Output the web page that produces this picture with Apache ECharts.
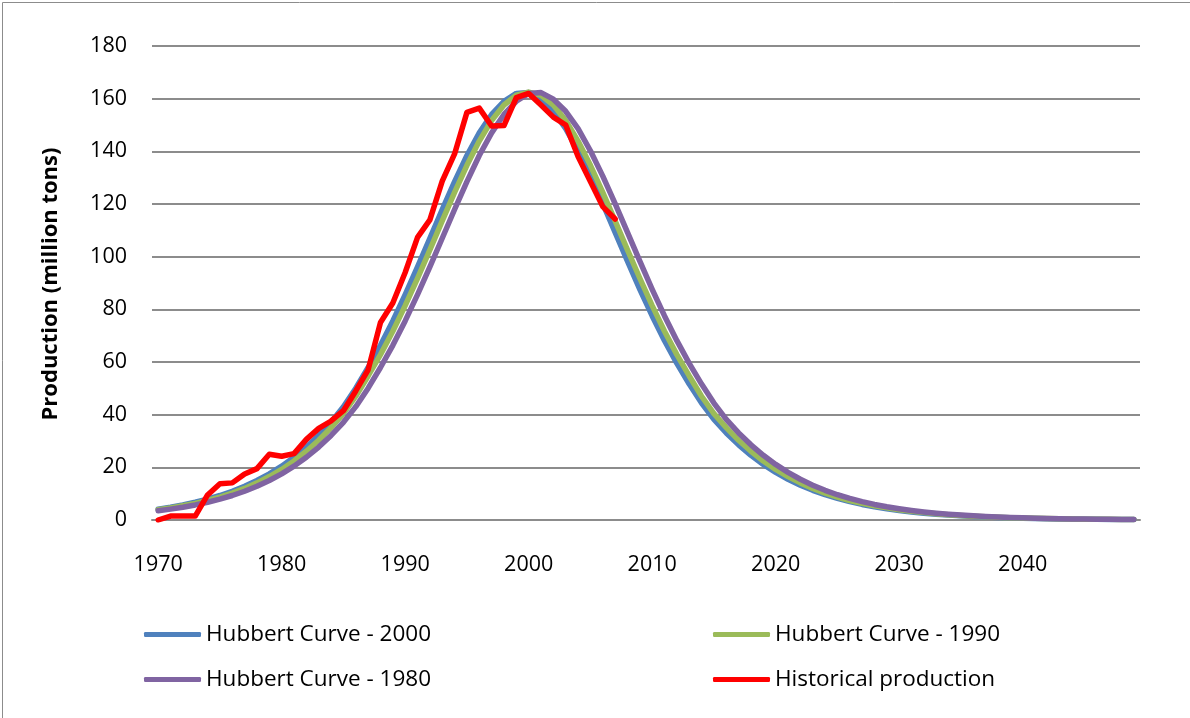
<!DOCTYPE html>
<html>
<head>
<meta charset="utf-8">
<script src="https://cdn.jsdelivr.net/npm/echarts@6/dist/echarts.min.js"></script>
<style>
html,body{margin:0;padding:0;background:#fff;}
#chart{width:1190px;height:718px;}
</style>
</head>
<body>
<div id="chart"></div>
<script>
// Categories: years 1970..2049
var years = [];
for (var y = 1970; y <= 2049; y++) years.push(String(y));

var seriesNames = ['Hubbert Curve - 2000', 'Hubbert Curve - 1990', 'Hubbert Curve - 1980', 'Historical production'];

var hubbert2000 = [4.13,4.86,5.72,6.74,7.92,9.30,10.91,12.79,14.99,17.53,
  20.46,23.83,27.70,32.11,37.11,43.04,50.05,57.9,66.34,75.6,
  85.56,96.1,106.98,117.9,128.5,138.4,147.0,154.0,159.0,162.0,
  162.3,159.8,155.2,148.6,140.2,130.6,120.1,109.2,98.3,87.6,
  77.5,68.1,59.5,51.6,44.4,38.18,33.06,28.54,24.57,21.10,
  18.08,15.47,13.21,11.27,9.60,8.18,6.96,5.91,5.02,4.27,
  3.62,3.07,2.60,2.21,1.87,1.59,1.34,1.13,0.97,0.82,
  0.69,0.59,0.50,0.42,0.36,0.31,0.26,0.22,0.19,0.16];

var hubbert1990 = [3.9,4.6,5.4,6.3,7.4,8.7,10.2,12.0,14.1,16.5,
  19.2,22.4,26.1,30.3,35.1,40.4,47.0,54.7,62.8,71.7,
  81.4,91.8,102.6,113.6,124.4,134.7,143.9,151.7,157.6,161.3,
  162.5,161.3,157.6,151.7,143.9,134.7,124.4,113.6,102.6,91.8,
  81.4,71.7,62.8,54.7,47.0,40.4,35.1,30.3,26.1,22.4,
  19.2,16.5,14.1,12.0,10.2,8.7,7.4,6.3,5.4,4.6,
  3.9,3.3,2.8,2.4,2.0,1.7,1.44,1.21,1.03,0.88,
  0.74,0.63,0.53,0.45,0.38,0.33,0.27,0.24,0.20,0.17];

var hubbert1980 = [3.50,4.13,4.86,5.72,6.74,7.92,9.30,10.91,12.79,14.99,
  17.53,20.46,23.83,27.70,32.11,37.11,43.04,50.05,57.9,66.34,
  75.6,85.56,96.1,106.98,117.9,128.5,138.4,147.0,154.0,159.0,
  162.0,162.3,159.8,155.2,148.6,140.2,130.6,120.1,109.2,98.3,
  87.6,77.5,68.1,59.5,51.6,44.4,38.18,33.06,28.54,24.57,
  21.10,18.08,15.47,13.21,11.27,9.60,8.18,6.96,5.91,5.02,
  4.27,3.62,3.07,2.60,2.21,1.87,1.59,1.34,1.13,0.97,
  0.82,0.69,0.59,0.50,0.42,0.36,0.31,0.26,0.22,0.19];

var historical = [0,1.5,1.5,1.5,9.5,13.8,14.1,17.5,19.5,25,
  24.2,25.2,30.6,34.8,37.6,41.5,49,57,75,82.4,
  94,107.3,114,128.7,139,154.8,156.4,149.6,149.8,160.4,
  162,157.6,153,150,138,128.5,119,114.3];

var yTicks = {min: 0, max: 180, interval: 20};

var colors = ['#4F81BD', '#9BBB59', '#8064A2', '#FF0000'];
var FONT = '"Open Sans", "Liberation Sans", sans-serif';

var chart = echarts.init(document.getElementById('chart'), null, {renderer: 'canvas'});

function lineSeries(name, data, color, width) {
  return {
    name: name, type: 'line', data: data, symbol: 'none', smooth: false,
    lineStyle: {color: color, width: width, cap: 'round', join: 'round'},
    itemStyle: {color: color},
    emphasis: {disabled: true}, animation: false
  };
}

var legendCommon = {
  orient: 'vertical', icon: 'roundRect', itemWidth: 57, itemHeight: 5,
  itemGap: 20, textStyle: {fontFamily: FONT, fontSize: 22.5, color: '#000', lineHeight: 25},
  selectedMode: false
};

chart.setOption({
  backgroundColor: '#fff',
  animation: false,
  color: colors,
  grid: {left: 152, right: 50, top: 46, bottom: 198, containLabel: false},
  xAxis: {
    type: 'category', data: years, boundaryGap: true,
    axisLine: {show: true, lineStyle: {color: '#8c8c8c', width: 2}},
    axisTick: {show: false},
    axisLabel: {interval: 9, fontFamily: FONT, fontSize: 21.5, color: '#000', margin: 34},
    splitLine: {show: false}
  },
  yAxis: {
    type: 'value', min: yTicks.min, max: yTicks.max, interval: yTicks.interval,
    axisLine: {show: false}, axisTick: {show: false},
    axisLabel: {fontFamily: FONT, fontSize: 21.5, color: '#000', margin: 25},
    splitLine: {show: true, lineStyle: {color: '#8c8c8c', width: 2}}
  },
  legend: [
    Object.assign({left: 139, top: 617, data: [seriesNames[0], seriesNames[2]]}, legendCommon),
    Object.assign({left: 708, top: 617, data: [seriesNames[1], seriesNames[3]]}, legendCommon)
  ],
  graphic: [
    {type: 'rect', left: 0, top: 0, silent: true,
     shape: {x: 0, y: 0, width: 1189, height: 717},
     style: {fill: 'none', stroke: '#8c8c8c', lineWidth: 1}},
    {type: 'text', x: 51, y: 284, rotation: Math.PI / 2, silent: true,
     style: {text: 'Production (million tons)', fontFamily: FONT, fontWeight: 'bold',
             fontSize: 22, fill: '#000', align: 'center', verticalAlign: 'middle'}}
  ],
  series: [
    lineSeries(seriesNames[0], hubbert2000, colors[0], 5.5),
    lineSeries(seriesNames[1], hubbert1990, colors[1], 5.5),
    lineSeries(seriesNames[2], hubbert1980, colors[2], 5.5),
    lineSeries(seriesNames[3], historical, colors[3], 5.5)
  ]
});
</script>
</body>
</html>
